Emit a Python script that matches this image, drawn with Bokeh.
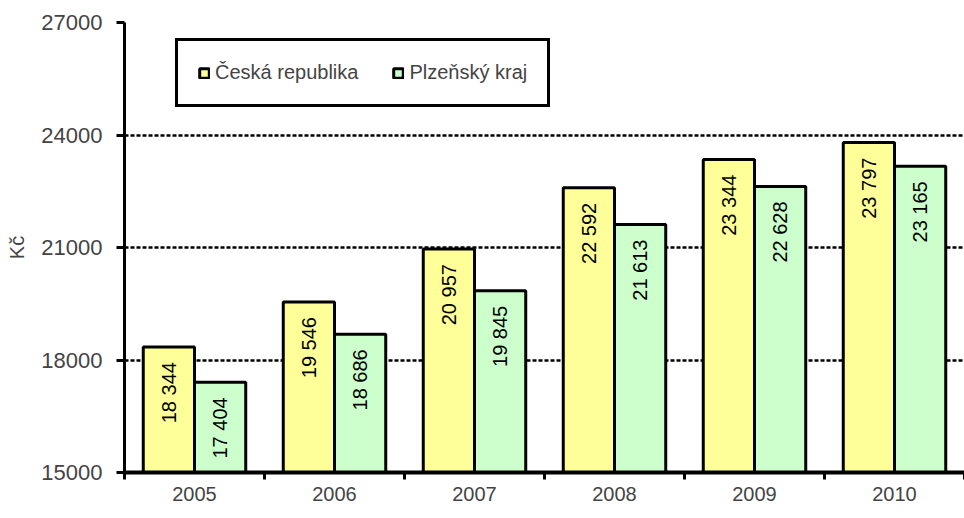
import numpy as np
from bokeh.plotting import figure
from bokeh.models import ColumnDataSource, FixedTicker, Legend, LegendItem, Range1d
from bokeh.core.properties import value
from bokeh.embed import file_html
from bokeh.resources import INLINE

years = ["2005", "2006", "2007", "2008", "2009", "2010"]
cr = [18344, 19546, 20957, 22592, 23344, 23797]
pk = [17404, 18686, 19845, 21613, 22628, 23165]
series_names = ["Česká republika", "Plzeňský kraj"]
y_ticks = [15000, 18000, 21000, 24000, 27000]

FONT = "Liberation Sans"

def fmt(v):
    return f"{v:,}".replace(",", " ")

idx = np.arange(len(years)) + 0.5
src_cr = ColumnDataSource(dict(x=idx - 0.183, top=cr, lab=[fmt(v) for v in cr]))
src_pk = ColumnDataSource(dict(x=idx + 0.183, top=pk, lab=[fmt(v) for v in pk]))

p = figure(width=964, height=518, output_backend="svg", toolbar_location=None,
           x_range=Range1d(0, len(years)), y_range=Range1d(15000, 27000),
           min_border_left=124, min_border_right=0, min_border_top=22, min_border_bottom=46)
p.outline_line_color = None
p.background_fill_color = "white"

r1 = p.vbar(x="x", top="top", bottom=15000, width=0.366, source=src_cr,
            fill_color="#FFFF99", line_color="black", line_width=3)
r2 = p.vbar(x="x", top="top", bottom=15000, width=0.366, source=src_pk,
            fill_color="#CCFFCC", line_color="black", line_width=3)

for s in (src_cr, src_pk):
    p.text(x="x", y="top", text="lab", source=s, angle=np.pi / 2,
           text_align="right", text_baseline="middle", y_offset=15,
           text_font=value(FONT), text_font_size="20px", text_color="black")

# axes
p.yaxis.ticker = FixedTicker(ticks=y_ticks)
p.yaxis.axis_label = "Kč"
p.yaxis.axis_label_text_font = FONT
p.yaxis.axis_label_text_font_style = "normal"
p.yaxis.axis_label_text_font_size = "20px"
p.yaxis.axis_label_standoff = 10
p.yaxis.major_label_text_font = FONT
p.yaxis.major_label_text_font_size = "22px"
p.yaxis.major_label_standoff = 14
p.yaxis.axis_line_width = 3
p.yaxis.major_tick_line_width = 3
p.yaxis.major_tick_out = 8
p.yaxis.major_tick_in = 0
p.yaxis.minor_tick_line_color = None

p.xaxis.ticker = FixedTicker(ticks=list(idx), minor_ticks=list(range(len(years) + 1)))
p.xaxis.major_label_overrides = {float(v): y for v, y in zip(idx, years)}
p.xaxis.major_tick_line_color = None
p.xaxis.minor_tick_out = 7
p.xaxis.minor_tick_in = 0
p.xaxis.minor_tick_line_width = 3
p.xaxis.axis_line_width = 4
p.xaxis.major_label_text_font = FONT
p.xaxis.major_label_text_font_size = "20px"
p.xaxis.major_label_standoff = 7

p.xgrid.grid_line_color = None
p.ygrid.grid_line_color = "black"
p.ygrid.grid_line_width = 2.5
p.ygrid.grid_line_dash = "4 2"

legend = Legend(items=[LegendItem(label=series_names[0], renderers=[r1]),
                       LegendItem(label=series_names[1], renderers=[r2])],
                location=(51, 365), orientation="horizontal",
                border_line_color="black", border_line_width=3, border_line_alpha=1,
                background_fill_color="white", background_fill_alpha=1,
                label_text_font=FONT, label_text_font_size="20px",
                glyph_width=12, glyph_height=12, label_standoff=5,
                spacing=34, padding=20, margin=0)
p.add_layout(legend)

open("out.html", "w").write(file_html(p, INLINE))
